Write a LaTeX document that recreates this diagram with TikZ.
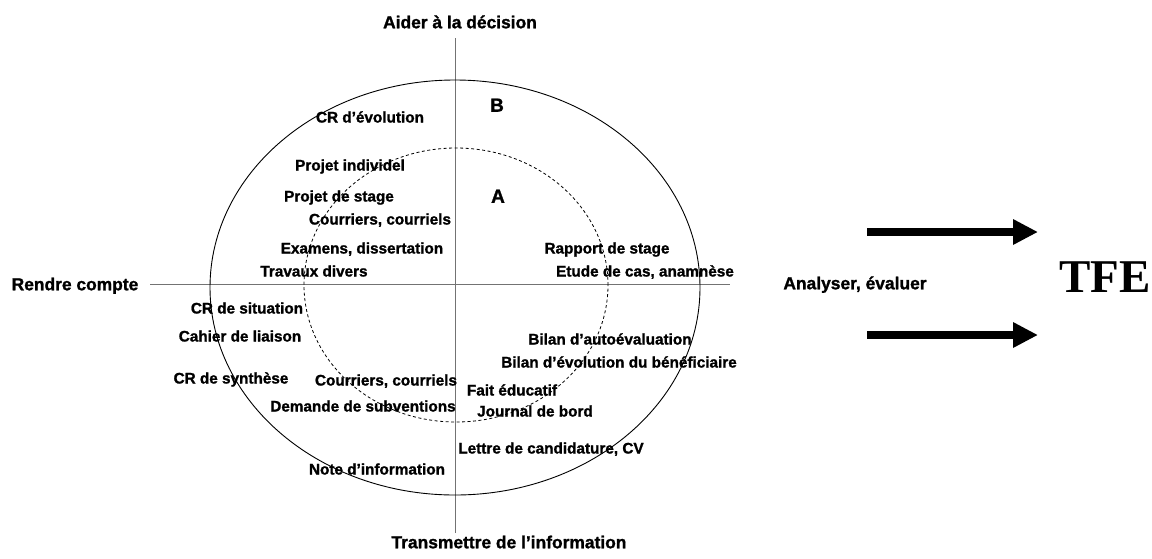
\documentclass[tikz,border=0pt]{standalone}
\usepackage{fontspec}
\setmainfont{Liberation Sans}[BoldFeatures={FakeBold=1.3}]
\newfontfamily\tfefont{Liberation Serif}
\usetikzlibrary{arrows.meta}
\begin{document}
\begin{tikzpicture}[x=1pt,y=-1pt,
  lbl/.style={font=\fontsize{15.3}{18}\selectfont\bfseries, inner sep=0pt, text height=11pt, text depth=0pt, anchor=center},
  ttl/.style={font=\fontsize{17.4}{20}\selectfont\bfseries, inner sep=0pt, text height=12.5pt, text depth=0pt, anchor=center},
  zone/.style={font=\fontsize{19}{22}\selectfont\bfseries, inner sep=0pt, text height=13.5pt, text depth=0pt, anchor=center},
  axis/.style={draw=black!55, line width=1pt},
  bigarrow/.style={line width=8pt, -{Triangle[length=25pt,width=24pt]}}]
\useasboundingbox (0,0) rectangle (1152,558);
% axes
\coordinate (top) at (455,38);
\coordinate (bot) at (455,533);
\coordinate (lft) at (150,284);
\coordinate (rgt) at (730,284);
\draw[axis] (top) -- (bot);
\draw[axis] (lft) -- (rgt);
% ellipses
\draw[line width=0.9pt] (455,287.5) ellipse [x radius=245pt, y radius=207.5pt];
\draw[line width=0.8pt, dashed, dash pattern=on 3pt off 2.5pt] (456,285) ellipse [x radius=152pt, y radius=137pt];
% titles
\node[ttl] (aider) at (460,22) {Aider à la décision};
\node[ttl] (trans) at (509,542) {Transmettre de l’information};
\node[ttl] (rendre) at (75,284) {Rendre compte};
\node[ttl] (analy) at (855,283) {Analyser, évaluer};
\node[zone] (zb) at (497,105) {B};
\node[zone] (za) at (498,196) {A};
% labels
\node[lbl] (l1) at (370,117) {CR d’évolution};
\node[lbl] (l2) at (350,165) {Projet individel};
\node[lbl] (l3) at (339,196) {Projet de stage};
\node[lbl] (l4) at (380,219) {Courriers, courriels};
\node[lbl] (l5) at (362,248) {Examens, dissertation};
\node[lbl] (l6) at (314,271) {Travaux divers};
\node[lbl] (l7) at (607,248) {Rapport de stage};
\node[lbl] (l8) at (645,271) {Etude de cas, anamnèse};
\node[lbl] (l9) at (247,308) {CR de situation};
\node[lbl] (l10) at (240,336) {Cahier de liaison};
\node[lbl] (l11) at (231,378) {CR de synthèse};
\node[lbl] (l12) at (386,380) {Courriers, courriels};
\node[lbl] (l13) at (363,406) {Demande de subventions};
\node[lbl] (l14) at (610,339) {Bilan d’autoévaluation};
\node[lbl] (l15) at (619,362) {Bilan d’évolution du bénéficiaire};
\node[lbl] (l16) at (512,390) {Fait éducatif};
\node[lbl] (l17) at (535,411) {Journal de bord};
\node[lbl] (l18) at (551,448) {Lettre de candidature, CV};
\node[lbl] (l19) at (377,469) {Note d’information};
% TFE and arrows
\node[font=\tfefont\fontsize{47}{50}\selectfont\bfseries, inner sep=0pt, text height=31pt, text depth=0pt] (tfe) at (1105,277) {TFE};
\coordinate (a1s) at (867,232);
\coordinate (a1e) at (1038,232);
\coordinate (a2s) at (867,335);
\coordinate (a2e) at (1038,335);
\draw[bigarrow] (a1s) -- (a1e);
\draw[bigarrow] (a2s) -- (a2e);
\end{tikzpicture}
\end{document}
